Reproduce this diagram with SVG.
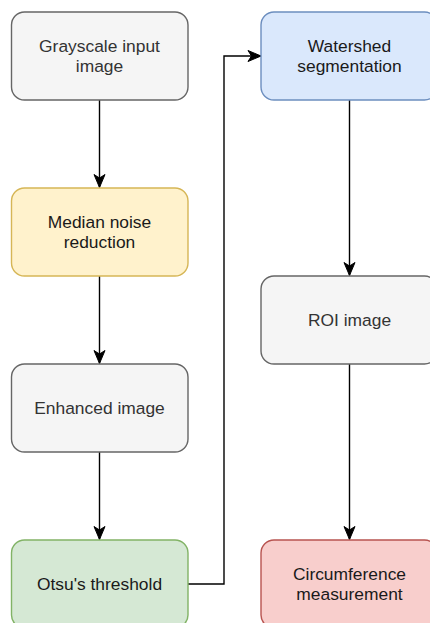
<svg xmlns="http://www.w3.org/2000/svg" width="430" height="623" viewBox="0 0 430 623">
<defs>
<marker id="arr" markerUnits="userSpaceOnUse" markerWidth="16" markerHeight="14" viewBox="-14 -7 16 14" refX="0" refY="0" orient="auto">
<path d="M0,0 L-13,-5.5 L-9.5,0 L-13,5.5 Z" fill="#000" stroke="#000" stroke-width="1"/>
</marker>
</defs>
<style>
.box{stroke-width:1.4}
.gray{fill:#f5f5f5;stroke:#666666}
.yellow{fill:#fff2cc;stroke:#d6b656}
.blue{fill:#dae8fc;stroke:#6c8ebf}
.green{fill:#d5e8d4;stroke:#82b366}
.red{fill:#f8cecc;stroke:#b85450}
text{font-family:"Liberation Sans",Arial,Helvetica,sans-serif;font-size:17.4px;text-anchor:middle}
.tg{fill:#333333}
.tb{fill:#1a1a1a}
.edge{fill:none;stroke:#000;stroke-width:1.4;marker-end:url(#arr)}
</style>
<rect width="430" height="623" fill="#ffffff"/>
<g id="connectors">
<path class="edge" d="M99.5,100 L99.5,187.5"/>
<path class="edge" d="M99.5,276 L99.5,363.5"/>
<path class="edge" d="M99.5,452 L99.5,539.5"/>
<path class="edge" d="M188,584 L224,584 L224,56 L261,56"/>
<path class="edge" d="M349.5,100 L349.5,275.5"/>
<path class="edge" d="M349.5,364 L349.5,539.5"/>
</g>
<g id="grayscale">
<rect class="box gray" x="11.5" y="12" width="176.5" height="88" rx="13"/>
<text class="tg" x="99.5" y="52">Grayscale input</text>
<text class="tg" x="99.5" y="72">image</text>
</g>
<g id="median">
<rect class="box yellow" x="11.5" y="188" width="176.5" height="88" rx="13"/>
<text class="tb" x="99.5" y="228">Median noise</text>
<text class="tb" x="99.5" y="248">reduction</text>
</g>
<g id="enhanced">
<rect class="box gray" x="11.5" y="364" width="176.5" height="88" rx="13"/>
<text class="tg" x="99.5" y="414">Enhanced image</text>
</g>
<g id="otsu">
<rect class="box green" x="11.5" y="540" width="176.5" height="88" rx="13"/>
<text class="tb" x="99.5" y="590">Otsu's threshold</text>
</g>
<g id="watershed">
<rect class="box blue" x="261" y="12" width="176.5" height="88" rx="13"/>
<text class="tb" x="349.5" y="52">Watershed</text>
<text class="tb" x="349.5" y="72">segmentation</text>
</g>
<g id="roi">
<rect class="box gray" x="261" y="276" width="176.5" height="88" rx="13"/>
<text class="tg" x="349.5" y="326">ROI image</text>
</g>
<g id="circumference">
<rect class="box red" x="261" y="540" width="176.5" height="88" rx="13"/>
<text class="tb" x="349.5" y="580">Circumference</text>
<text class="tb" x="349.5" y="600">measurement</text>
</g>
</svg>
